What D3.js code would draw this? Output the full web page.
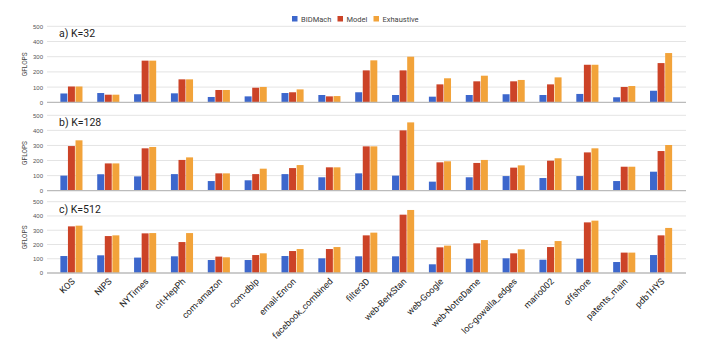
<!DOCTYPE html>
<html>
<head>
<meta charset="utf-8">
<script src="https://cdn.jsdelivr.net/npm/d3@7"></script>
<style>
  body { margin: 0; background: #fff; }
  svg { font-family: Roboto, Arial, sans-serif; }
  .grid line { stroke: #e4e4e4; }
  .yaxis text { fill: #555; font-size: 6px; }
  .xlab { fill: #222; font-size: 9px; }
</style>
</head>
<body>
<div id="chart"></div>
<script>
// data
var datasets = ["KOS", "NIPS", "NYTimes", "cit-HepPh", "com-amazon", "com-dblp", "email-Enron",
  "facebook_combined", "filter3D", "web-BerkStan", "web-Google", "web-NotreDame",
  "loc-gowalla_edges", "mario002", "offshore", "patents_main", "pdb1HYS"];
var seriesNames = ["BIDMach", "Model", "Exhaustive"];
var panelTitles = ["a) K=32", "b) K=128", "c) K=512"];
var yTicks = [0, 100, 200, 300, 400, 500];

var k32Bidmach = [58, 61, 53, 59, 35, 39, 61, 48, 66, 48, 37, 48, 53, 48, 55, 33, 76];
var k32Model = [104, 50, 274, 151, 81, 96, 66, 39, 210, 210, 118, 138, 138, 118, 247, 101, 258];
var k32Exhaustive = [104, 50, 274, 151, 81, 101, 85, 41, 276, 300, 158, 175, 147, 164, 247, 107, 324];

var k128Bidmach = [100, 109, 95, 110, 64, 69, 110, 89, 115, 100, 60, 89, 97, 84, 97, 64, 126];
var k128Model = [296, 181, 281, 204, 115, 110, 150, 155, 294, 400, 188, 184, 153, 199, 254, 159, 263];
var k128Exhaustive = [334, 181, 290, 221, 115, 146, 170, 155, 294, 453, 195, 204, 168, 215, 281, 159, 303];

var k512Bidmach = [119, 124, 108, 117, 91, 91, 119, 103, 117, 117, 61, 100, 103, 93, 100, 77, 126];
var k512Model = [327, 259, 278, 217, 115, 126, 154, 168, 264, 409, 180, 208, 138, 182, 355, 143, 264];
var k512Exhaustive = [332, 264, 280, 280, 110, 138, 168, 182, 283, 442, 192, 231, 166, 224, 367, 143, 316];

var panelData = [
  [k32Bidmach, k32Model, k32Exhaustive],
  [k128Bidmach, k128Model, k128Exhaustive],
  [k512Bidmach, k512Model, k512Exhaustive]
];

var colors = ["#3d67cc", "#cc4327", "#f2a33a"];

var width = 720, height = 344;
var gridLeft = 47, gridRight = 686;
// vertical spans of each panel: [top (500), bottom (0)]
var panelSpans = [[26.3, 102.3], [115.3, 190.7], [201.7, 273]];

var svg = d3.select("#chart").append("svg")
  .attr("width", width)
  .attr("height", height);

var x0 = d3.scaleBand()
  .domain(datasets)
  .range([53, 679.5])
  .paddingInner(0.4)
  .paddingOuter(0.2);

var x1 = d3.scaleBand()
  .domain(seriesNames)
  .range([0, x0.bandwidth()])
  .paddingInner(0.08);

// legend
var legendX = [292, 337.5, 373.5];
var legend = svg.append("g").attr("class", "legend");
seriesNames.forEach(function(name, i) {
  legend.append("rect")
    .attr("x", legendX[i])
    .attr("y", 16)
    .attr("width", 5.5)
    .attr("height", 5.5)
    .attr("fill", colors[i]);
  legend.append("text")
    .attr("x", legendX[i] + 9)
    .attr("y", 21.5)
    .attr("font-size", "7.5px")
    .attr("fill", "#444")
    .text(name);
});

panelData.forEach(function(series, p) {
  var y = d3.scaleLinear()
    .domain([0, 500])
    .range([panelSpans[p][1], panelSpans[p][0]]);

  var g = svg.append("g").attr("class", "panel");

  // gridlines
  g.append("g").attr("class", "grid")
    .selectAll("line")
    .data(yTicks.slice(1))
    .enter().append("line")
    .attr("x1", gridLeft)
    .attr("x2", gridRight)
    .attr("y1", d => y(d))
    .attr("y2", d => y(d));

  // y axis labels
  var yAxis = d3.axisLeft(y).tickValues(yTicks).tickSize(0).tickPadding(0);
  g.append("g")
    .attr("class", "yaxis")
    .attr("transform", "translate(43,0)")
    .call(yAxis)
    .call(s => s.select(".domain").remove());

  // axis title
  g.append("text")
    .attr("transform", "translate(27," + ((panelSpans[p][0] + panelSpans[p][1]) / 2) + ")rotate(-90)")
    .attr("text-anchor", "middle")
    .attr("font-size", "6.5px")
    .attr("fill", "#444")
    .text("GFLOPS");

  // bars
  var groups = g.selectAll(".grp")
    .data(datasets)
    .enter().append("g")
    .attr("class", "grp")
    .attr("transform", d => "translate(" + x0(d) + ",0)");

  groups.selectAll("rect")
    .data(function(d, i) {
      return seriesNames.map((s, j) => ({ s: s, v: series[j][i], c: colors[j] }));
    })
    .enter().append("rect")
    .attr("x", d => x1(d.s))
    .attr("width", x1.bandwidth())
    .attr("y", d => y(d.v))
    .attr("height", d => y(0) - y(d.v))
    .attr("fill", d => d.c);

  // baseline
  g.append("line")
    .attr("x1", gridLeft)
    .attr("x2", gridRight)
    .attr("y1", y(0))
    .attr("y2", y(0))
    .attr("stroke", "#bbb")
    .attr("stroke-width", 1.3);

  // panel title
  g.append("text")
    .attr("x", 59)
    .attr("y", panelSpans[p][0] + 11)
    .attr("font-size", "10.5px")
    .attr("fill", "#222")
    .text(panelTitles[p]);
});

// x labels under the last panel
var lastY = panelSpans[2][1];
svg.append("g").selectAll("text")
  .data(datasets)
  .enter().append("text")
  .attr("class", "xlab")
  .attr("text-anchor", "end")
  .attr("transform", d => "translate(" + (x0(d) + x0.bandwidth() / 2 + 4) + "," + (lastY + 9) + ")rotate(-45)")
  .text(d => d);
</script>
</body>
</html>
